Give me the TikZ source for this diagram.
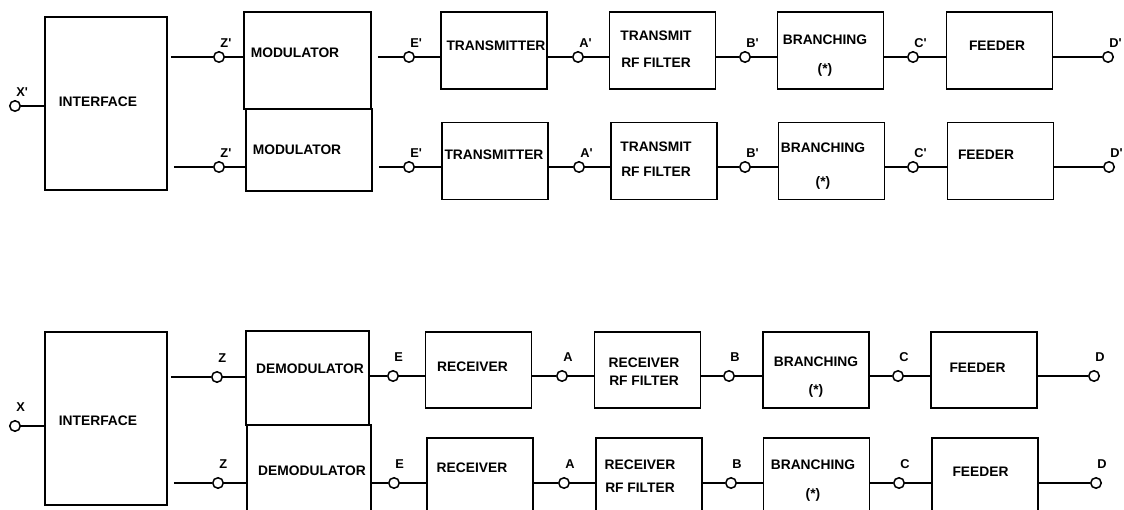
\documentclass[tikz,border=0pt]{standalone}
\usepackage{fontspec}
\setmainfont{Liberation Sans}
\usetikzlibrary{positioning,arrows,fit,calc}

\newcommand{\pr}{\textquotesingle}

\tikzset{
    blk/.style={draw, line width=1.8pt, inner sep=0pt, minimum width=106pt, minimum height=77pt},
    txt/.style={font=\fontsize{13.8}{16}\selectfont\bfseries, inner sep=0pt},
    lbl/.style={font=\fontsize{12.8}{14}\selectfont\bfseries, inner sep=0pt, xshift=-3pt, yshift=5pt},
    pin/.style={circle, draw, fill=white, line width=1.5pt, minimum size=10.5pt, inner sep=0pt},
    term/.style={pin, label={[lbl]above right:#1}},
    termlo/.style={pin, label={[lbl, yshift=5pt]above right:#1}},
    wire/.style={line width=1.8pt}
}

\begin{document}
\begin{tikzpicture}[x=1pt, y=-1pt]

    \useasboundingbox (0,0) rectangle (1124,510);
    \clip (0,0) rectangle (1124,510);

% transmit side
    \node (ifcT) [blk, minimum width=122pt, minimum height=173pt] at (106,103.5) {};
    \node (modA) [blk, minimum width=127pt, minimum height=97pt] at (307.5,60.5) {};
    \node (modB) [blk, minimum width=126pt, minimum height=82pt] at (309,150) {};
    \node (txA) [blk] at (494,50.5) {};
    \node (txB) [blk] at (495,161) {};
    \node (tfA) [blk] at (662.5,50.5) {};
    \node (tfB) [blk] at (664,161) {};
    \node (brA) [blk] at (830.5,50.5) {};
    \node (brB) [blk] at (831.5,161) {};
    \node (fdA) [blk] at (999.5,50.5) {};
    \node (fdB) [blk] at (1000.5,161) {};

    \node (ifcTt) [txt] at (98,102) {INTERFACE};
    \node (modAt) [txt] at (295,53) {MODULATOR};
    \node (modBt) [txt] at (297,150) {MODULATOR};
    \node (txAt) [txt] at (496,46) {TRANSMITTER};
    \node (txBt) [txt] at (494,155) {TRANSMITTER};
    \node (tfAt) [txt] at (656,51.3) {\begin{tabular}{c} TRANSMIT \\[11pt] RF FILTER \end{tabular}};
    \node (tfBt) [txt] at (656,161.3) {\begin{tabular}{c} TRANSMIT \\[9pt] RF FILTER \end{tabular}};
    \node (brAt) [txt] at (825,56.3) {\begin{tabular}{c} BRANCHING \\[13pt] (*) \end{tabular}};
    \node (brBt) [txt] at (823,166.8) {\begin{tabular}{c} BRANCHING \\[18pt] (*) \end{tabular}};
    \node (fdAt) [txt] at (997,46) {FEEDER};
    \node (fdBt) [txt] at (986,155) {FEEDER};

    \node (xT) [term=X\pr] at (15,106) {};
    \node (zA) [term=Z\pr] at (219,57) {};
    \node (zB) [term=Z\pr] at (219,167) {};
    \node (eA) [term=E\pr] at (409,57) {};
    \node (eB) [term=E\pr] at (409,167) {};
    \node (aA) [term=A\pr] at (578,57) {};
    \node (aB) [term=A\pr] at (579,167) {};
    \node (bA) [term=B\pr] at (745,57) {};
    \node (bB) [term=B\pr] at (745,167) {};
    \node (cA) [term=C\pr] at (913,57) {};
    \node (cB) [term=C\pr] at (913,167) {};
    \node (dA) [term=D\pr] at (1108,57) {};
    \node (dB) [term=D\pr] at (1109,167) {};

    \path[wire] (xT) edge (xT -| ifcT.west)
        (zA -| ifcT.east) edge[shorten <=3pt] (zA)
        (zB -| ifcT.east) edge[shorten <=6pt] (zB)
        (zA) edge (zA -| modA.west)
        (zB) edge (zB -| modB.west)
        (eA -| modA.east) edge[shorten <=6pt] (eA)
        (eB -| modB.east) edge[shorten <=6pt] (eB)
        (eA) edge (eA -| txA.west)
        (eB) edge (eB -| txB.west)
        (aA -| txA.east) edge (aA)
        (aB -| txB.east) edge (aB)
        (aA) edge (aA -| tfA.west)
        (aB) edge (aB -| tfB.west)
        (bA -| tfA.east) edge (bA)
        (bB -| tfB.east) edge (bB)
        (bA) edge (bA -| brA.west)
        (bB) edge (bB -| brB.west)
        (cA -| brA.east) edge (cA)
        (cB -| brB.east) edge (cB)
        (cA) edge (cA -| fdA.west)
        (cB) edge (cB -| fdB.west)
        (dA -| fdA.east) edge (dA)
        (dB -| fdB.east) edge (dB);

% receive side
    \node (ifcR) [blk, minimum width=122pt, minimum height=173pt] at (106,418.5) {};
    \node (demA) [blk, minimum width=123pt, minimum height=94pt] at (307.5,378) {};
    \node (demB) [blk, minimum width=124pt, minimum height=105pt] at (309,477.5) {};
    \node (rxA) [blk, minimum height=76pt] at (478.5,370) {};
    \node (rxB) [blk, minimum height=92pt] at (480,484) {};
    \node (rfA) [blk, minimum height=76pt] at (647.5,370) {};
    \node (rfB) [blk, minimum height=92pt] at (649,484) {};
    \node (brC) [blk, minimum height=76pt] at (816,370) {};
    \node (brD) [blk, minimum height=92pt] at (816.5,484) {};
    \node (fdC) [blk, minimum height=76pt] at (984,370) {};
    \node (fdD) [blk, minimum height=92pt] at (985,484) {};

    \node (ifcRt) [txt] at (98,421) {INTERFACE};
    \node (demAt) [txt] at (310,369) {DEMODULATOR};
    \node (demBt) [txt] at (312,471) {DEMODULATOR};
    \node (rxAt) [txt] at (472.5,367) {RECEIVER};
    \node (rxBt) [txt] at (472,468) {RECEIVER};
    \node (rfAt) [txt] at (644,372.8) {\begin{tabular}{c} RECEIVER \\[2pt] RF FILTER \end{tabular}};
    \node (rfBt) [txt] at (640,477.3) {\begin{tabular}{c} RECEIVER \\[7pt] RF FILTER \end{tabular}};
    \node (brCt) [txt] at (816,376.8) {\begin{tabular}{c} BRANCHING \\[12pt] (*) \end{tabular}};
    \node (brDt) [txt] at (813,480.3) {\begin{tabular}{c} BRANCHING \\[13pt] (*) \end{tabular}};
    \node (fdCt) [txt] at (977.5,368) {FEEDER};
    \node (fdDt) [txt] at (980.5,472) {FEEDER};

    \node (xR) [termlo=X] at (15,426) {};
    \node (zC) [termlo=Z] at (217,377) {};
    \node (zD) [termlo=Z] at (218,483) {};
    \node (eC) [termlo=E] at (393,376) {};
    \node (eD) [termlo=E] at (394,483) {};
    \node (aC) [termlo=A] at (562,376) {};
    \node (aD) [termlo=A] at (564,483) {};
    \node (bC) [termlo=B] at (729,376) {};
    \node (bD) [termlo=B] at (731,483) {};
    \node (cC) [termlo=C] at (898,376) {};
    \node (cD) [termlo=C] at (899,483) {};
    \node (dC) [termlo=D] at (1094,376) {};
    \node (dD) [termlo=D] at (1096,483) {};

    \path[wire] (xR) edge (xR -| ifcR.west)
        (zC -| ifcR.east) edge[shorten <=3pt] (zC)
        (zD -| ifcR.east) edge[shorten <=6pt] (zD)
        (zC) edge (zC -| demA.west)
        (zD) edge (zD -| demB.west)
        (eC -| demA.east) edge (eC)
        (eD -| demB.east) edge (eD)
        (eC) edge (eC -| rxA.west)
        (eD) edge (eD -| rxB.west)
        (aC -| rxA.east) edge (aC)
        (aD -| rxB.east) edge (aD)
        (aC) edge (aC -| rfA.west)
        (aD) edge (aD -| rfB.west)
        (bC -| rfA.east) edge (bC)
        (bD -| rfB.east) edge (bD)
        (bC) edge (bC -| brC.west)
        (bD) edge (bD -| brD.west)
        (cC -| brC.east) edge (cC)
        (cD -| brD.east) edge (cD)
        (cC) edge (cC -| fdC.west)
        (cD) edge (cD -| fdD.west)
        (dC -| fdC.east) edge (dC)
        (dD -| fdD.east) edge (dD);

\end{tikzpicture}
\end{document}
